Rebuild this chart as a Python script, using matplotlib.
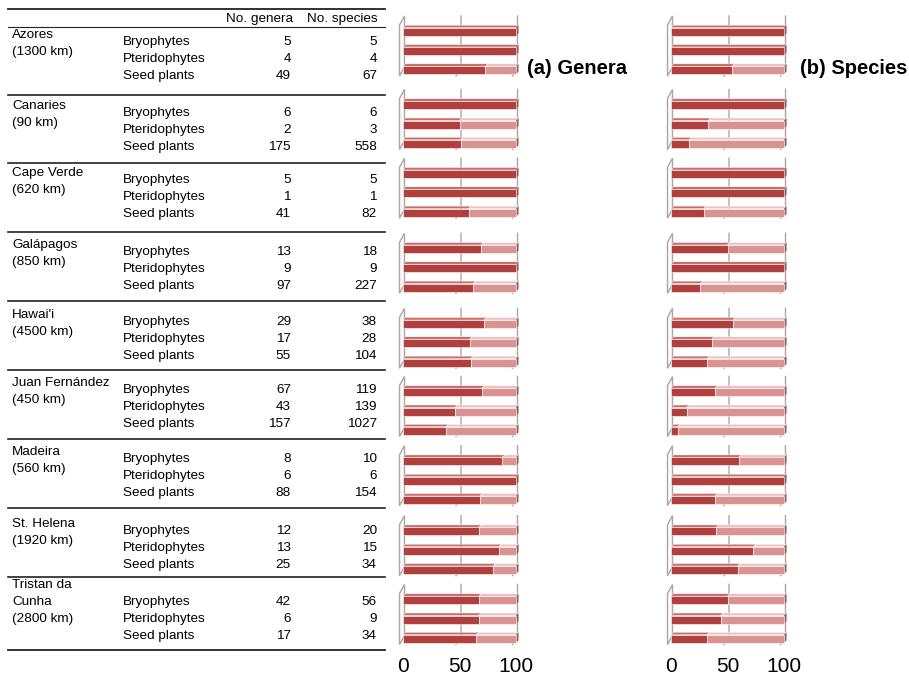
import numpy as np
import matplotlib.pyplot as plt
from matplotlib.lines import Line2D
from matplotlib.patches import Polygon

plt.rcParams['font.family'] = ['Liberation Sans', 'DejaVu Sans']

# data
islands = ['Azores', 'Canaries', 'Cape Verde', 'Galápagos', "Hawai'i",
           'Juan Fernández', 'Madeira', 'St. Helena', 'Tristan da\nCunha']
distances = ['1300 km', '90 km', '620 km', '850 km', '4500 km',
             '450 km', '560 km', '1920 km', '2800 km']
groups = ['Bryophytes', 'Pteridophytes', 'Seed plants']

n_genera = [[5, 4, 49], [6, 2, 175], [5, 1, 41], [13, 9, 97], [29, 17, 55],
            [67, 43, 157], [8, 6, 88], [12, 13, 25], [42, 6, 17]]
n_species = [[5, 4, 67], [6, 3, 558], [5, 1, 82], [18, 9, 227], [38, 28, 104],
             [119, 139, 1027], [10, 6, 154], [20, 15, 34], [56, 9, 34]]

# share (%) shown by the dark part of each bar
pct_genera = [[100, 100, 73], [100, 50, 51], [100, 100, 58], [69, 100, 62],
              [72, 59, 60], [70, 46, 38], [88, 100, 68], [67, 85, 80],
              [67, 67, 65]]
pct_species = [[100, 100, 54], [100, 33, 16], [100, 100, 29], [50, 100, 26],
               [55, 36, 32], [39, 14, 6], [60, 100, 39], [40, 73, 59],
               [50, 44, 32]]

x_ticks = [0, 50, 100]

# layout (pixels)
W, H = 909, 674
rule_y = [9, 27, 95, 163, 232, 301, 370, 439, 508, 577, 650]
rule_w = [1.3, 0.8, 1.2, 1.2, 1.2, 1.2, 1.2, 1.2, 1.2, 1.2, 1.3]
row_y = [40, 111, 178, 250, 320, 388, 457, 529, 600]
centers = [51, 124.5, 193.3, 268.3, 343.3, 411.5, 480.7, 550.7, 619.5]
SX, SY = 1.13, 19.3          # px per unit on bar panels
FS = 9.7
BASE = 5                     # baseline offset from text centre (px)

DARK, DARK_TOP = '#b0403e', '#c86e6b'
LIGHT, LIGHT_TOP = '#d99391', '#ecc2c0'
CAP = '#8f5f5e'
GRID = '#a8a8a8'

fig = plt.figure(figsize=(W / 100, H / 100), dpi=100)


def fx(p):
    return p / W


def fy(p):
    return 1 - p / H


def put(x, y, s, ha='left'):
    fig.text(fx(x), fy(y + BASE), s, ha=ha, va='baseline', fontsize=FS)


# table
for y, lw in zip(rule_y, rule_w):
    fig.add_artist(Line2D([fx(8), fx(385)], [fy(y), fy(y)], color='#222222', lw=lw))

put(293, 17, 'No. genera', ha='right')
put(378, 17, 'No. species', ha='right')

for k in range(len(islands)):
    name = islands[k].split('\n') + ['(' + distances[k] + ')']
    top = row_y[k] - 7 if len(name) == 2 else row_y[k] - 17
    for j, t in enumerate(name):
        put(12, top + 17 * j, t)
    for g in range(3):
        y = row_y[k] + 17 * g
        put(123, y, groups[g])
        put(291, y, str(n_genera[k][g]), ha='right')
        put(377, y, str(n_species[k][g]), ha='right')

# 3d-ish geometry in data units
FX, BX = -3.5 / SX, 1.5 / SX
FT, FB = 1 - 26 / SY, 1 + 25 / SY
BT, BB = 1 - 35 / SY, 1 + 16 / SY
BH = 8 / SY
BDX, BDY = 2.5 / SX, -2.5 / SY


def draw_panel(ax, vals):
    for g in (50, 100):
        ax.plot([g + BX, g + BX, g + FX], [BT, BB, FB], color=GRID, lw=1.0,
                zorder=1, solid_joinstyle='miter')
    ax.add_patch(Polygon([(BX, BT), (FX, FT), (FX, FB), (BX, BB)], closed=True,
                         fc='#fbfbfb', ec=GRID, lw=1.0, zorder=1))
    for i, v in enumerate(vals):
        y0 = i - BH / 2
        ax.barh(i, v, height=BH, color=DARK, edgecolor='white', lw=0.4, zorder=3)
        if v < 100:
            ax.barh(i, 100 - v, left=v, height=BH, color=LIGHT,
                    edgecolor='white', lw=0.4, zorder=3)
        for a, b, c in [(0, v, DARK_TOP), (v, 100, LIGHT_TOP)]:
            if b > a:
                ax.add_patch(Polygon([(a, y0), (b, y0), (b + BDX, y0 + BDY),
                                      (a + BDX, y0 + BDY)], closed=True,
                                     fc=c, ec='white', lw=0.3, zorder=2))
        ax.add_patch(Polygon([(100, y0), (100, y0 + BH), (100 + BDX, y0 + BH + BDY),
                              (100 + BDX, y0 + BDY)], closed=True, fc=CAP,
                             ec='none', zorder=2))
    ax.set_xlim(-14 / SX, 123 / SX)
    ax.set_ylim(1 + 42 / SY, 1 - 42 / SY)
    ax.set_frame_on(False)
    ax.set_yticks([])


for x0, pcts in [(403, pct_genera), (671, pct_species)]:
    for k, c in enumerate(centers):
        ax = fig.add_axes([fx(x0 - 14), fy(c + 42), 137 / W, 84 / H])
        draw_panel(ax, pcts[k])
        if k == len(centers) - 1:
            ax.set_xticks(x_ticks)
            ax.tick_params(axis='x', length=0, pad=-3.5, labelsize=15)
        else:
            ax.set_xticks([])

fig.text(fx(527), fy(69), '(a) Genera', fontsize=14.5, fontweight='bold', va='center')
fig.text(fx(800), fy(69), '(b) Species', fontsize=14.5, fontweight='bold', va='center')

fig.savefig('out.png', dpi=100)
